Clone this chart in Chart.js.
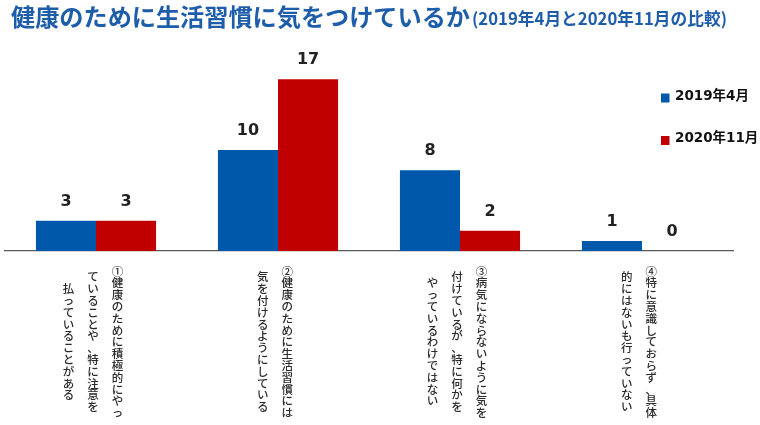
<!DOCTYPE html>
<html><head><meta charset="utf-8">
<script src="https://cdn.jsdelivr.net/npm/chart.js@4/dist/chart.umd.min.js"></script>
<style>html,body{margin:0;padding:0;background:#fff;overflow:hidden}#wrap{width:760px;height:425px}</style>
</head><body><div id="wrap"><canvas id="c" width="760" height="425"></canvas></div>
<script>
const titleMain = "健康のために生活習慣に気をつけているか";
const titleSub = "(2019年4月と2020年11月の比較)";
const categoryColumns = [
  ["①健康のために積極的にやっ", "ていることや、特に注意を", "払っていることがある"],
  ["②健康のために生活習慣には", "気を付けるようにしている"],
  ["③病気にならないように気を", "付けているが、特に何かを", "やっているわけではない"],
  ["④特に意識しておらず、具体", "的にはないも行っていない"]
];
const seriesLabels = ["2019年4月", "2020年11月"];
const values2019 = [3, 10, 8, 1];
const values2020 = [3, 17, 2, 0];
const seriesColors = ["#0058AA", "#C00000"];
const yMax = 20;

const categories = categoryColumns.map(c => c.join(""));

const drawPlugin = {
  id: 'custom',
  afterDraw(chart) {
    const ctx = chart.ctx;
    const area = chart.chartArea;
    const xs = chart.scales.x;
    ctx.save();
    // title
    ctx.fillStyle = "#1E5DAA";
    ctx.textBaseline = "middle";
    ctx.textAlign = "left";
    ctx.font = "bold 24px 'Noto Sans CJK JP'";
    let w = ctx.measureText(titleMain).width;
    ctx.save(); ctx.translate(11, 17); ctx.scale(459 / w, 1); ctx.fillText(titleMain, 0, 0); ctx.restore();
    ctx.font = "bold 17px 'Noto Sans CJK JP'";
    w = ctx.measureText(titleSub).width;
    ctx.save(); ctx.translate(472, 19); ctx.scale(255 / w, 1); ctx.fillText(titleSub, 0, 0); ctx.restore();

    // legend
    const legY = [98, 140.5];
    chart.data.datasets.forEach((ds, i) => {
      ctx.fillStyle = ds.backgroundColor;
      ctx.fillRect(661, legY[i] - 4.5, 8.5, 9);
      ctx.fillStyle = "#111";
      ctx.font = "bold 13.5px 'DejaVu Sans', 'Noto Sans CJK JP'";
      ctx.textBaseline = "middle";
      ctx.fillText(ds.label, 675, legY[i] - 2);
    });

    // data labels
    ctx.font = "bold 16px 'DejaVu Sans'";
    ctx.fillStyle = "#222";
    ctx.textAlign = "center";
    ctx.textBaseline = "middle";
    chart.data.datasets.forEach((ds, i) => {
      const meta = chart.getDatasetMeta(i);
      meta.data.forEach((bar, j) => {
        ctx.fillText(String(ds.data[j]), bar.x, bar.y - 19);
      });
    });

    // vertical category labels
    ctx.font = "500 11.5px 'Noto Sans CJK JP'";
    ctx.fillStyle = "#2b2b2b";
    const pitch = 11.8, colGap = 24.5;
    const midY = area.bottom + 91;
    categoryColumns.forEach((cols, i) => {
      const cx = xs.getPixelForValue(i) - 3;
      const n = cols.length;
      cols.forEach((str, k) => {
        const x = cx + ((n - 1) / 2 - k) * colGap;
        const chars = Array.from(str);
        const y0 = midY - chars.length * pitch / 2 + pitch / 2;
        chars.forEach((ch, m) => ctx.fillText(ch, x, y0 + m * pitch));
      });
    });
    ctx.restore();
  }
};

new Chart(document.getElementById('c'), {
  type: 'bar',
  data: {
    labels: categories,
    datasets: [
      { label: seriesLabels[0], data: values2019, backgroundColor: seriesColors[0] },
      { label: seriesLabels[1], data: values2020, backgroundColor: seriesColors[1] }
    ]
  },
  options: {
    responsive: false,
    devicePixelRatio: 1,
    animation: false,
    layout: { padding: { left: 5, right: 27, top: 49, bottom: 174 } },
    datasets: { bar: { barPercentage: 1.0, categoryPercentage: 0.66 } },
    plugins: { legend: { display: false }, tooltip: { enabled: false }, title: { display: false } },
    scales: {
      x: {
        grid: { display: false, drawTicks: false },
        border: { display: true, color: '#5a5a5a', width: 1.2 },
        ticks: { display: false },
        afterFit(s) { s.height = 0; }
      },
      y: { display: false, min: 0, max: yMax }
    }
  },
  plugins: [drawPlugin]
});
</script>
</body></html>
